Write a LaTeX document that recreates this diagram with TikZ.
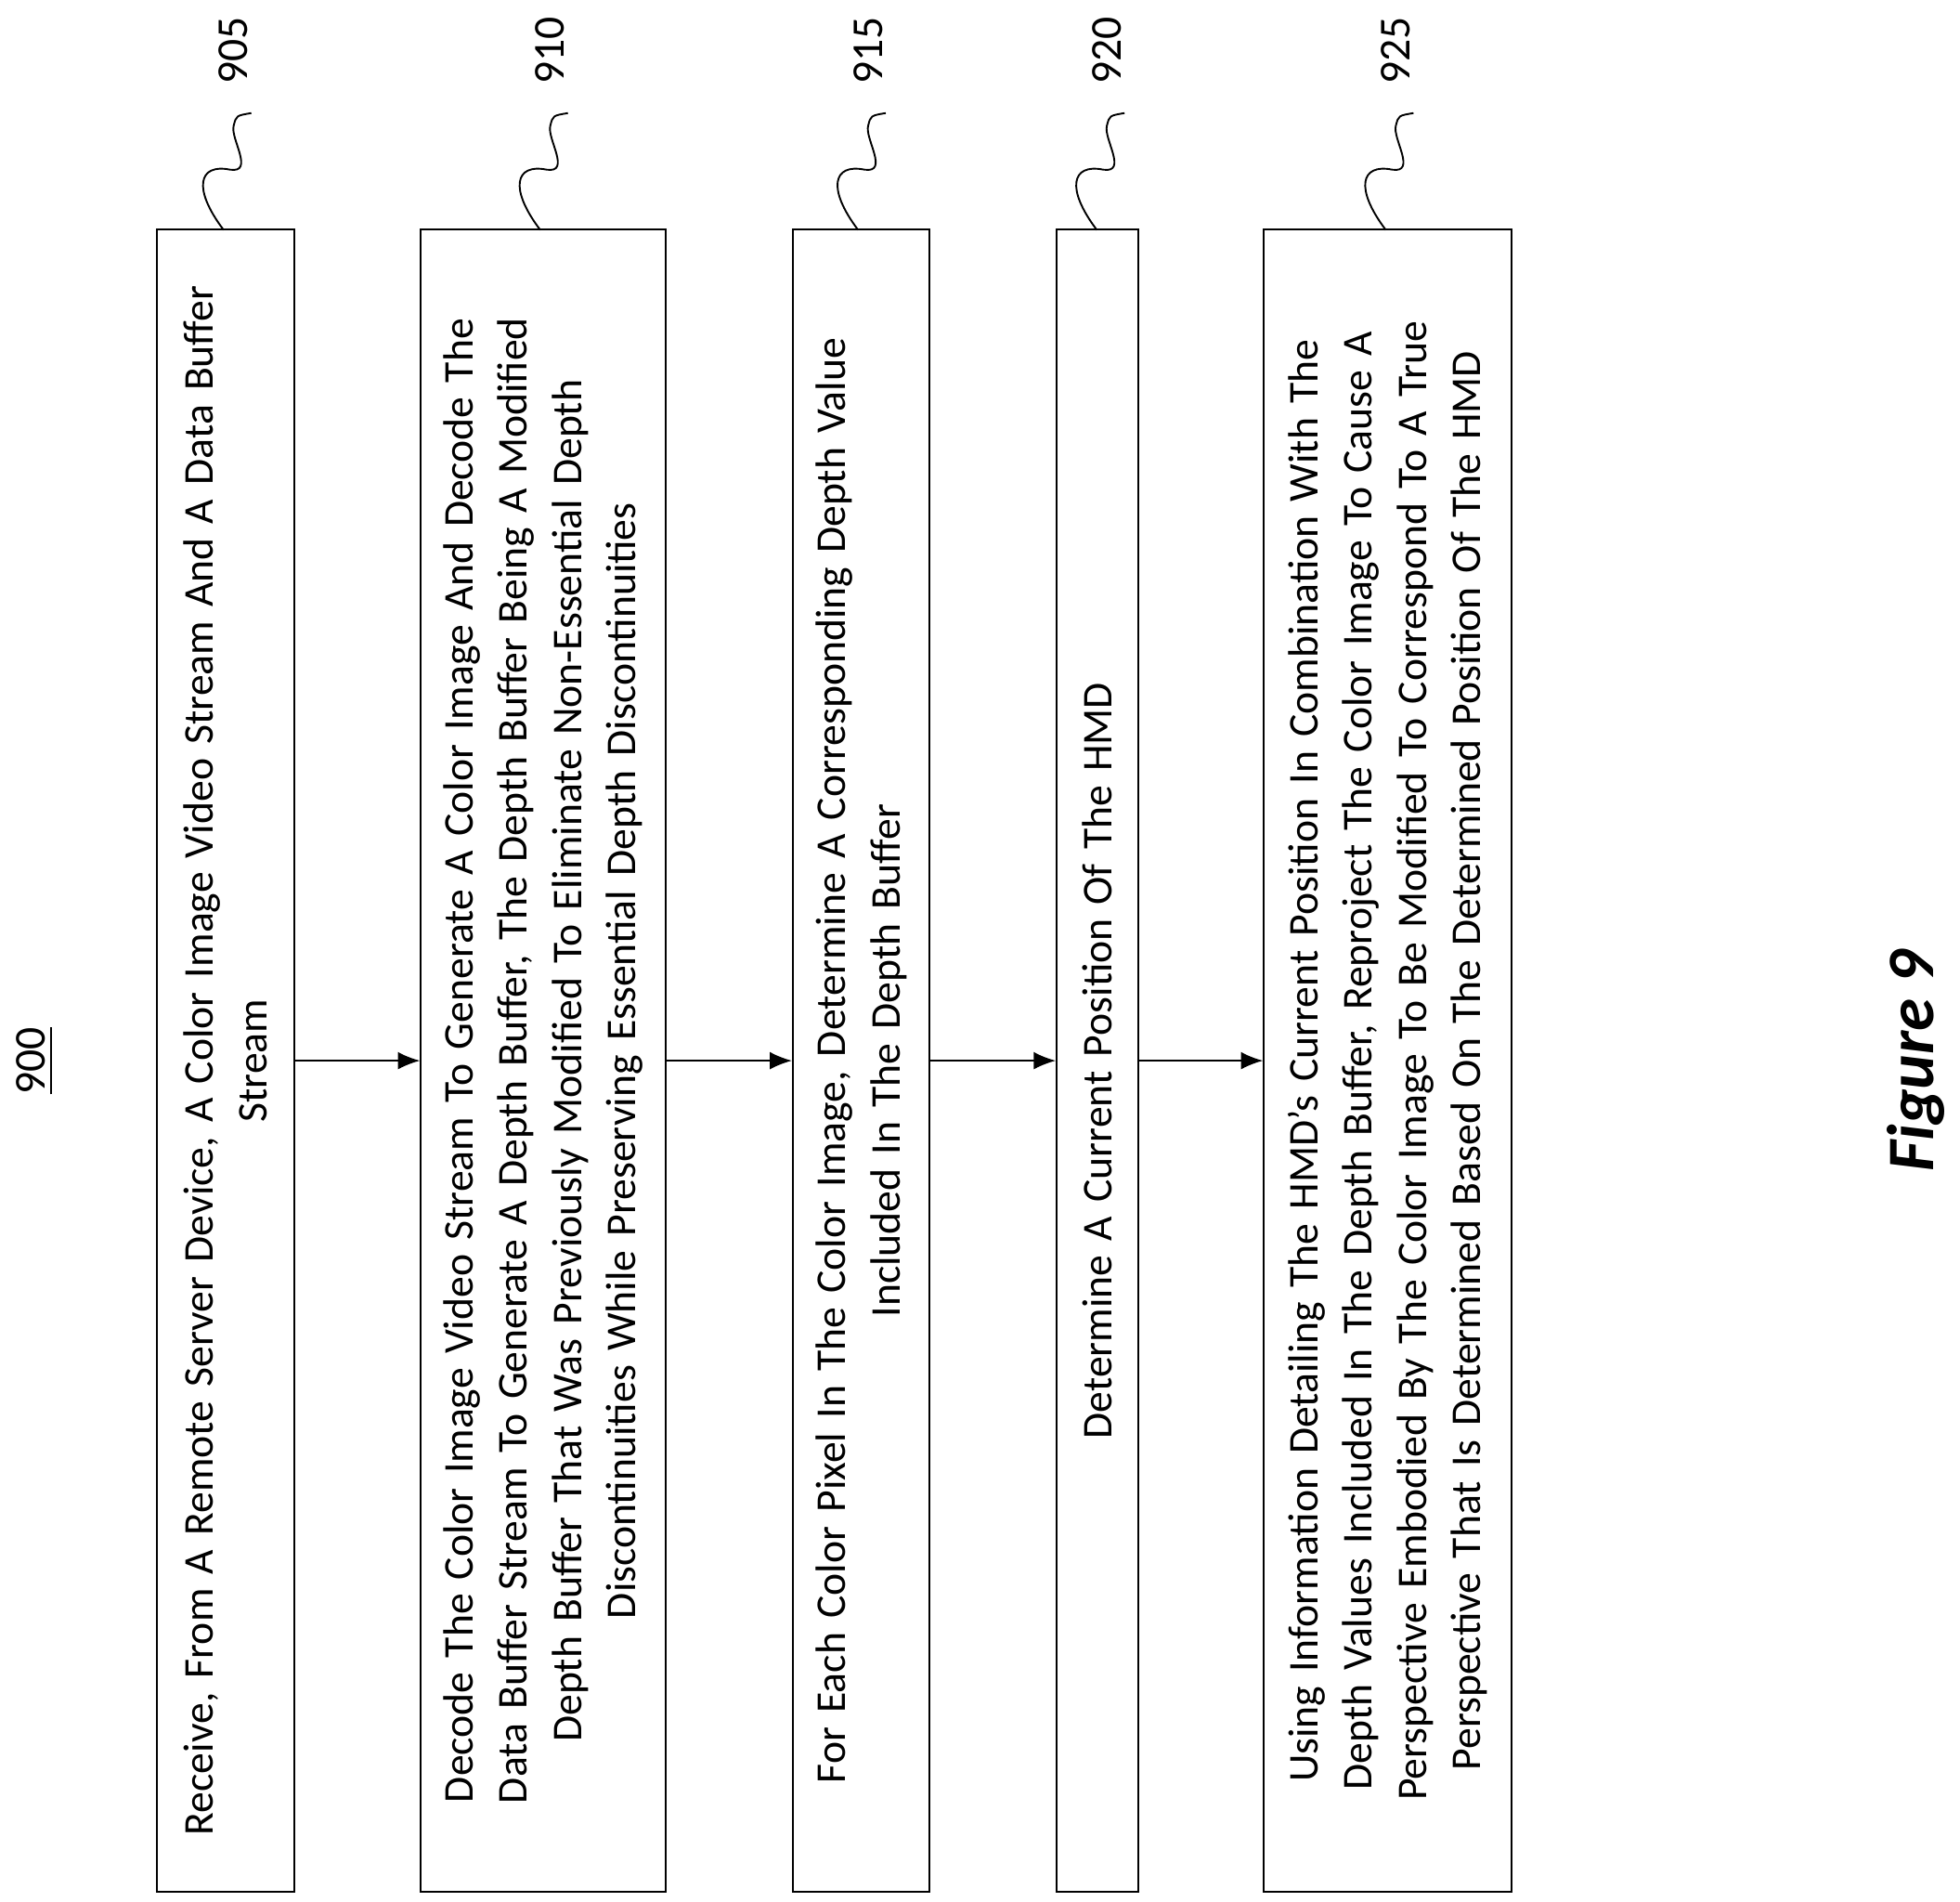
\documentclass[tikz,border=0pt]{standalone}
\usepackage{fontspec}
\setmainfont{Carlito}
\usetikzlibrary{arrows.meta}

\begin{document}
\begin{tikzpicture}[x=0.01cm,y=-0.01cm]
    \tikzset{stepbox/.style = {draw, rotate=90, inner sep=0pt, minimum width=13.22cm, align=center, font=\fontsize{9.6}{12.3}\selectfont}}
    \tikzset{flow/.style = {-{Latex[length=5pt,width=4pt]}, thin}}
    \tikzset{tag/.style = {rotate=90, font=\fontsize{10}{12}\selectfont}}
    \useasboundingbox (0,0) rectangle (1560,1513);

    % boxes
    \node[stepbox, minimum height=1.09cm, text width=12.8cm] (b1) at (179.5,844) {Receive, From A Remote Server Device, A Color Image Video Stream And A Data Buffer\\Stream};
    \node[stepbox, minimum height=1.95cm, text width=12.8cm] (b2) at (432.5,844) {Decode The Color Image Video Stream To Generate A Color Image And Decode The\\Data Buffer Stream To Generate A Depth Buffer, The Depth Buffer Being A Modified\\Depth Buffer That Was Previously Modified To Eliminate Non-Essential Depth\\Discontinuities While Preserving Essential Depth Discontinuities};
    \node[stepbox, minimum height=1.09cm, text width=12.8cm] (b3) at (685.5,844) {For Each Color Pixel In The Color Image, Determine A Corresponding Depth Value\\Included In The Depth Buffer};
    \node[stepbox, minimum height=0.65cm, text width=12.8cm] (b4) at (873.5,844) {Determine A Current Position Of The HMD};
    \node[stepbox, minimum height=1.97cm, text width=12.8cm] (b5) at (1104.5,844) {Using Information Detailing The HMD’s Current Position In Combination With The\\Depth Values Included In The Depth Buffer, Reproject The Color Image To Cause A\\Perspective Embodied By The Color Image To Be Modified To Correspond To A True\\Perspective That Is Determined Based On The Determined Position Of The HMD};

    % arrows
    \draw[flow] (b1.south) -- (b2.north);
    \draw[flow] (b2.south) -- (b3.north);
    \draw[flow] (b3.south) -- (b4.north);
    \draw[flow] (b4.south) -- (b5.north);

    % reference numerals
    \foreach \n/\x/\lab in {1/178/905, 2/430/910, 3/683/915, 4/873/920, 5/1103/925} {
        \coordinate (s\n) at (\x,183);
        \coordinate (t\n) at (\x+22,90);
        \draw (s\n) .. controls (\x-25,150) and (\x-20,130) .. (\x+5,135)
              .. controls (\x+25,138) and (\x+5,110) .. (\x+8,100)
              .. controls (\x+10,92) .. (t\n);
        \node[tag] (l\n) at (\x+8,40) {\lab};
    }

    % titles
    \node[tag] (fig) at (28,844) {\underline{900}};
    \node[rotate=90, font=\fontsize{15}{18}\selectfont\bfseries\itshape] (cap) at (1525,844) {Figure 9};
\end{tikzpicture}
\end{document}
